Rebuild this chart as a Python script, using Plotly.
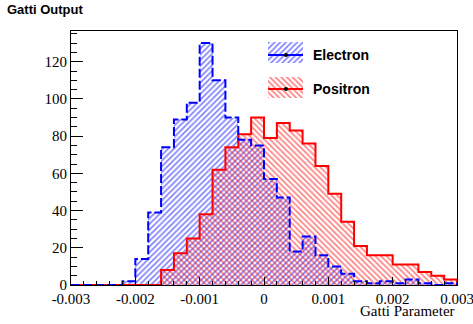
import numpy as np
import plotly.graph_objects as go

# ---- data ----
bin_low = -0.003
bin_high = 0.003
n_bins = 30
electron_counts = [0, 0, 0, 0, 2, 14, 39, 74, 89, 98,
                   130, 110, 90, 78, 75, 57, 47, 18, 26, 16,
                   10, 6, 2, 1, 2, 1, 3, 1, 0, 1]
positron_counts = [0, 0, 0, 0, 0, 0, 0, 8, 17, 25,
                   38, 62, 74, 81, 90, 79, 87, 83, 76, 64,
                   49, 34, 21, 16, 16, 11, 11, 7, 5, 3]
x_tick_vals = [-0.003, -0.002, -0.001, 0, 0.001, 0.002, 0.003]
x_tick_text = ["-0.003", "-0.002", "-0.001", "0", "0.001", "0.002", "0.003"]
y_tick_vals = [0, 20, 40, 60, 80, 100, 120]
series_names = ["Electron", "Positron"]
title_text = "Gatti Output"
x_title = "Gatti Parameter"

edges = np.linspace(bin_low, bin_high, n_bins + 1)
width = edges[1] - edges[0]
centers = (edges[:-1] + edges[1:]) / 2

BLUE = "#0000ff"
RED = "#ff0000"
PSIZE = 4
PSOL = 0.4

fig = go.Figure()


def step_xy(counts):
    xs = [edges[0]] + list(edges)
    ys = [0] + list(counts) + [0]
    return xs, ys


# fills
fig.add_trace(go.Bar(
    x=centers, y=electron_counts, width=width,
    marker=dict(color="rgba(0,0,0,0)", line=dict(width=0),
                pattern=dict(shape="/", fgcolor=BLUE, bgcolor="rgba(0,0,0,0)",
                             size=PSIZE, solidity=PSOL, fillmode="overlay")),
    showlegend=False, hoverinfo="skip"))
fig.add_trace(go.Bar(
    x=centers, y=positron_counts, width=width,
    marker=dict(color="rgba(0,0,0,0)", line=dict(width=0),
                pattern=dict(shape="\\", fgcolor=RED, bgcolor="rgba(0,0,0,0)",
                             size=PSIZE, solidity=PSOL, fillmode="overlay")),
    showlegend=False, hoverinfo="skip"))

# outlines
xs, ys = step_xy(positron_counts)
fig.add_trace(go.Scatter(x=xs, y=ys, mode="lines", line=dict(color=RED, width=2, shape="hv"),
                         showlegend=False, hoverinfo="skip", cliponaxis=False))
xs, ys = step_xy(electron_counts)
fig.add_trace(go.Scatter(x=xs, y=ys, mode="lines",
                         line=dict(color=BLUE, width=2, shape="hv", dash="9px,3px"),
                         showlegend=False, hoverinfo="skip", cliponaxis=False))

# ---- custom legend on an overlay axis in pixel units ----
L, R, T, B = 71, 457, 31, 285
legend_rows = [(series_names[0], BLUE, "/", 42, 63, 55),
               (series_names[1], RED, "\\", 77, 98, 89)]
for name, col, shp, y0, y1, yl in legend_rows:
    fig.add_trace(go.Scatter(
        x=[268, 303, 303, 268, 268], y=[y0, y0, y1, y1, y0], xaxis="x2", yaxis="y2",
        mode="lines", line=dict(width=0, color="rgba(0,0,0,0)"), fill="toself",
        fillcolor="rgba(0,0,0,0)",
        fillpattern=dict(shape=shp, fgcolor=col, bgcolor="rgba(0,0,0,0)", size=PSIZE,
                         solidity=PSOL, fillmode="overlay"),
        showlegend=False, hoverinfo="skip"))
    fig.add_trace(go.Scatter(
        x=[268, 303], y=[yl, yl], xaxis="x2", yaxis="y2", mode="lines",
        line=dict(color=col, width=2), showlegend=False, hoverinfo="skip"))
    fig.add_trace(go.Scatter(
        x=[286], y=[yl], xaxis="x2", yaxis="y2", mode="markers",
        marker=dict(color="black", size=4), showlegend=False, hoverinfo="skip"))
    fig.add_annotation(x=311, y=yl, xref="x2", yref="y2", text=name, showarrow=False,
                       xanchor="left", yanchor="middle",
                       font=dict(family="Liberation Sans, Arial", size=14, color="black",
                                 weight="bold"))

serif = "Liberation Serif, Times New Roman, serif"

fig.update_layout(
    width=473, height=324,
    margin=dict(l=L, r=473 - R, t=T, b=324 - B, autoexpand=False),
    paper_bgcolor="white", plot_bgcolor="white",
    barmode="overlay", bargap=0,
    showlegend=False,
    title=dict(text=title_text, x=7 / 473, xanchor="left", y=1 - 9 / 324, yanchor="middle",
               font=dict(family="Liberation Sans, Arial", size=13, color="black", weight="bold")),
    xaxis=dict(range=[bin_low, bin_high], showgrid=False, zeroline=False,
               showline=True, linecolor="black", linewidth=1, mirror=True,
               ticks="inside", ticklen=8, tickcolor="black", tickwidth=1,
               tickvals=x_tick_vals, ticktext=x_tick_text, ticklabeloverflow="allow",
               tickfont=dict(family=serif, size=15, color="black"),
               minor=dict(ticks="inside", ticklen=4, tickcolor="black", dtick=0.0002,
                          showgrid=False)),
    yaxis=dict(range=[0, 136.5], showgrid=False, zeroline=False,
               showline=True, linecolor="black", linewidth=1, mirror=True,
               ticks="inside", ticklen=12, tickcolor="black", tickwidth=1,
               tickvals=y_tick_vals, ticklabeloverflow="allow",
               tickfont=dict(family=serif, size=15, color="black"),
               minor=dict(ticks="inside", ticklen=6, tickcolor="black", dtick=5,
                          showgrid=False)),
    xaxis2=dict(range=[L, R], overlaying="x", visible=False, showgrid=False),
    yaxis2=dict(range=[B, T], overlaying="y", visible=False, showgrid=False),
)

fig.add_annotation(x=1, y=-(311 - B) / (B - T), xref="paper", yref="paper", text=x_title,
                   showarrow=False, xanchor="right", yanchor="middle",
                   font=dict(family=serif, size=15, color="black"))

fig.write_html("out.html", config={"displayModeBar": False},
               post_script="document.body.style.margin='0';document.body.style.padding='0';")
